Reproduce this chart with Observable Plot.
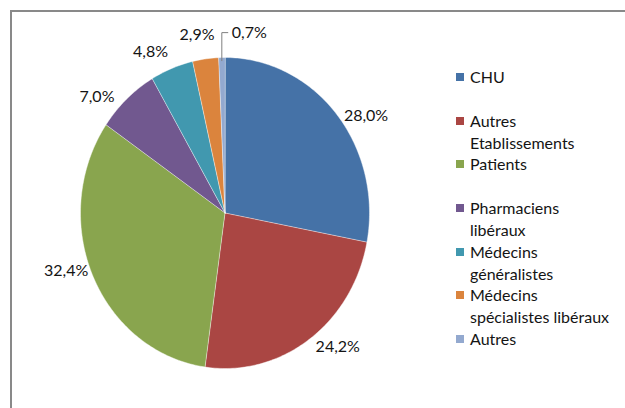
<!DOCTYPE html>
<html>
<head>
<meta charset="utf-8">
<script src="https://cdn.jsdelivr.net/npm/d3@7"></script>
<script src="https://cdn.jsdelivr.net/npm/@observablehq/plot@0.6"></script>
<style>
  html, body { margin: 0; padding: 0; background: #fff; }
  #wrap { position: relative; width: 625px; height: 408px; overflow: hidden; font-family: Lato, "Open Sans", sans-serif; }
  #frame { position: absolute; left: 10px; top: 10px; width: 700px; height: 500px; border-left: 2px solid #898989; border-top: 2px solid #898989; box-sizing: border-box; }
  #chart { position: absolute; left: 0; top: 0; }
  #legend { position: absolute; left: 456px; top: 66px; font-size: 16px; color: #141414; }
  .item { position: relative; height: 43.7px; }
  .sw { position: absolute; left: 0; top: 7px; width: 8px; height: 8px; }
  .lab { position: absolute; left: 14px; top: 0; line-height: 22px; white-space: pre; }
</style>
</head>
<body>
<div id="wrap">
  <div id="frame"></div>
  <div id="chart"></div>
  <div id="legend"></div>
</div>
<script>
// Data
const categories = ["CHU", "Autres Etablissements", "Patients", "Pharmaciens libéraux", "Médecins généralistes", "Médecins spécialistes libéraux", "Autres"];
const legendLabels = ["CHU", "Autres\nEtablissements", "Patients", "Pharmaciens\nlibéraux", "Médecins\ngénéralistes", "Médecins\nspécialistes libéraux", "Autres"];
const values = [28.0, 24.2, 32.4, 7.0, 4.8, 2.9, 0.7];
const valueLabels = ["28,0%", "24,2%", "32,4%", "7,0%", "4,8%", "2,9%", "0,7%"];
const colors = ["#4572A7", "#AA4643", "#89A54E", "#71588F", "#4198AF", "#DB843D", "#93A9CF"];

// Geometry from values
const arcs = d3.pie().sort(null).value(d => d)(values);
const slicePts = [];
arcs.forEach((a, i) => {
  slicePts.push({name: categories[i], x: 0, y: 0});
  const n = Math.max(2, Math.ceil((a.endAngle - a.startAngle) / (Math.PI / 180)));
  for (let k = 0; k <= n; k++) {
    const t = a.startAngle + (a.endAngle - a.startAngle) * k / n;
    slicePts.push({name: categories[i], x: Math.sin(t), y: Math.cos(t)});
  }
});

const pull = 7 * Math.PI / 180, lr = 1.16;
const labels = [], leaders = [];
arcs.forEach((a, i) => {
  const mid = (a.startAngle + a.endAngle) / 2;
  if (values[i] < 1) {
    const ex = Math.sin(mid), ey = Math.cos(mid);
    leaders.push({x: ex, y: ey * 0.98}, {x: ex, y: lr}, {x: ex + 6 / 144.5, y: lr});
    labels.push({x: ex + 10 / 144.5, y: lr, text: valueLabels[i], anchor: "start"});
  } else {
    const t = mid + pull * Math.sin(2 * mid);
    labels.push({x: lr * Math.sin(t), y: lr * Math.cos(t), text: valueLabels[i], anchor: "middle"});
  }
});

const chart = Plot.plot({
  width: 625,
  height: 408,
  margin: 0,
  x: {domain: [-1, 1], range: [80, 369], axis: null},
  y: {domain: [-1, 1], range: [368, 57], axis: null},
  color: {domain: categories, range: colors},
  style: {background: "transparent", fontFamily: "Lato, 'Open Sans', sans-serif"},
  marks: [
    Plot.line(slicePts, {x: "x", y: "y", z: "name", fill: "name", stroke: "#ffffff", strokeWidth: 0.6, strokeOpacity: 0.7, curve: "linear-closed"}),
    Plot.line(leaders, {x: "x", y: "y", stroke: "#7f7f7f", strokeWidth: 1}),
    Plot.text(labels.filter(d => d.anchor === "middle"), {x: "x", y: "y", text: "text", fontSize: 16, fill: "#141414", textAnchor: "middle"}),
    Plot.text(labels.filter(d => d.anchor === "start"), {x: "x", y: "y", text: "text", fontSize: 16, fill: "#141414", textAnchor: "start"})
  ]
});
document.getElementById("chart").appendChild(chart);

const legend = document.getElementById("legend");
categories.forEach((c, i) => {
  const item = document.createElement("div");
  item.className = "item";
  const sw = document.createElement("div");
  sw.className = "sw";
  sw.style.background = colors[i];
  const lab = document.createElement("div");
  lab.className = "lab";
  lab.textContent = legendLabels[i];
  item.appendChild(sw);
  item.appendChild(lab);
  legend.appendChild(item);
});
</script>
</body>
</html>
